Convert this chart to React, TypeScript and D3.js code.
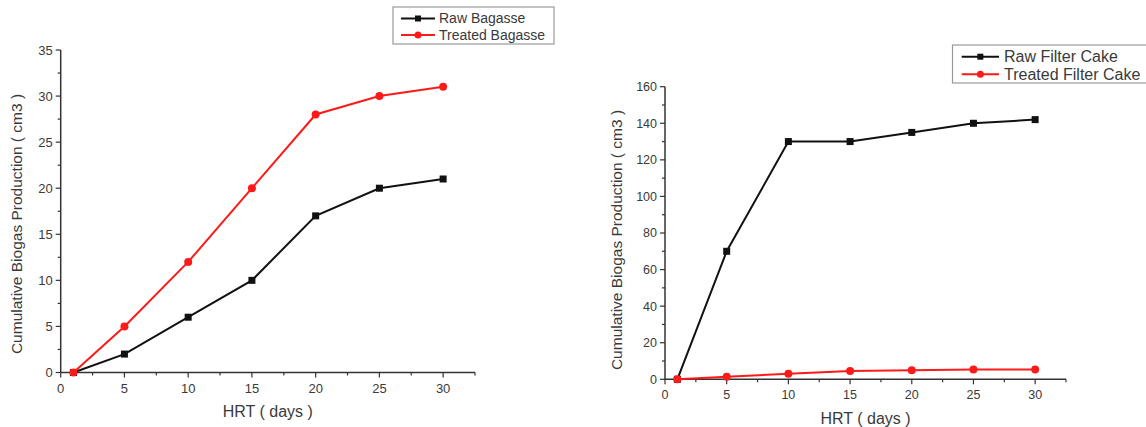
import React from "react";
import * as d3 from "d3";

const hrtDays = [1, 5, 10, 15, 20, 25, 30];
const rawBagasse = [0, 2, 6, 10, 17, 20, 21];
const treatedBagasse = [0, 5, 12, 20, 28, 30, 31];
const rawFilterCake = [0, 70, 130, 130, 135, 140, 142];
const treatedFilterCake = [0, 1.4, 3, 4.5, 5, 5.3, 5.3];

const xTicks = [0, 5, 10, 15, 20, 25, 30];
const leftYTicks = [0, 5, 10, 15, 20, 25, 30, 35];
const rightYTicks = [0, 20, 40, 60, 80, 100, 120, 140, 160];

const FONT = "Liberation Sans, Arial, sans-serif";
const TXT = "#3a3a3a";

type Series = { name: string; values: number[]; color: string; marker: "square" | "circle" };

type PanelProps = {
  x0: number; x1: number; yTop: number; yBottom: number;
  yMax: number; yTicks: number[]; yMinorStep: number;
  series: Series[];
  tickFont: number; titleFont: number; yTitleFont: number;
  yTitleX: number; yTitleY: number; xTitleY: number;
  legend: { x: number; y: number; w: number; h: number; row1: number; row2: number; lineX0: number; lineX1: number; textX: number; font: number };
  markerSize: number;
};

function Panel(p: PanelProps) {
  const x = d3.scaleLinear().domain([0, 32.5]).range([p.x0, p.x1]);
  const y = d3.scaleLinear().domain([0, p.yMax]).range([p.yBottom, p.yTop]);
  const line = d3.line<number>().x((_, i) => x(hrtDays[i])).y((v) => y(v));
  const xMinor = d3.range(2.5, 32.5, 5);
  const yMinor = d3.range(p.yMinorStep, p.yMax, p.yMinorStep * 2);
  const axisColor = "#333";
  const drawMarker = (s: Series, cx: number, cy: number, key: string | number, size: number) =>
    s.marker === "square" ? (
      <rect key={key} x={cx - size / 2} y={cy - size / 2} width={size} height={size} fill={s.color} />
    ) : (
      <circle key={key} cx={cx} cy={cy} r={size / 2 + 0.5} fill={s.color} />
    );
  const L = p.legend;
  return (
    <g>
      <line x1={p.x0} x2={p.x0} y1={y(0)} y2={y(p.yMax)} stroke={axisColor} strokeWidth={1.5} />
      <line x1={p.x0} x2={p.x1} y1={y(0)} y2={y(0)} stroke={axisColor} strokeWidth={1.5} />
      <line x1={p.x1} x2={p.x1} y1={y(0)} y2={y(0) + 3} stroke={axisColor} strokeWidth={1.2} />
      {xTicks.map((t) => (
        <g key={"xt" + t}>
          <line x1={x(t)} x2={x(t)} y1={y(0)} y2={y(0) + 5} stroke={axisColor} strokeWidth={1.2} />
          <text x={x(t)} y={y(0) + 20} textAnchor="middle" fontSize={p.tickFont} fontFamily={FONT} fill={TXT}>{t}</text>
        </g>
      ))}
      {xMinor.map((t) => (
        <line key={"xm" + t} x1={x(t)} x2={x(t)} y1={y(0)} y2={y(0) + 3} stroke={axisColor} strokeWidth={1.2} />
      ))}
      {p.yTicks.map((t) => (
        <g key={"yt" + t}>
          <line x1={p.x0 - 5} x2={p.x0} y1={y(t)} y2={y(t)} stroke={axisColor} strokeWidth={1.2} />
          <text x={p.x0 - 8} y={y(t)} dy="0.35em" textAnchor="end" fontSize={p.tickFont} fontFamily={FONT} fill={TXT}>{t}</text>
        </g>
      ))}
      {yMinor.map((t) => (
        <line key={"ym" + t} x1={p.x0 - 3} x2={p.x0} y1={y(t)} y2={y(t)} stroke={axisColor} strokeWidth={1.2} />
      ))}
      <text x={(p.x0 + p.x1) / 2} y={p.xTitleY} textAnchor="middle" fontSize={p.titleFont} fontFamily={FONT} fill={TXT}>HRT ( days )</text>
      <text transform={`translate(${p.yTitleX},${p.yTitleY}) rotate(-90)`} textAnchor="middle" dy="0.35em" fontSize={p.yTitleFont} fontFamily={FONT} fill={TXT}>
        Cumulative Biogas Production ( cm3 )
      </text>
      {p.series.map((s) => (
        <g key={s.name}>
          <path d={line(s.values) || ""} fill="none" stroke={s.color} strokeWidth={2} />
          {s.values.map((v, i) => drawMarker(s, x(hrtDays[i]), y(v), i, p.markerSize))}
        </g>
      ))}
      <rect x={L.x} y={L.y} width={L.w} height={L.h} fill="#fff" stroke="#999" strokeWidth={1.2} />
      {p.series.map((s, i) => {
        const ry = i === 0 ? L.row1 : L.row2;
        return (
          <g key={"lg" + s.name}>
            <line x1={L.lineX0} x2={L.lineX1} y1={ry} y2={ry} stroke={s.color} strokeWidth={2} />
            {drawMarker(s, (L.lineX0 + L.lineX1) / 2, ry, "m", p.markerSize - 1)}
            <text x={L.textX} y={ry} dy="0.35em" fontSize={L.font} fontFamily={FONT} fill={TXT}>{s.name}</text>
          </g>
        );
      })}
    </g>
  );
}

export default function App() {
  return (
    <svg width={1146} height={427} style={{ position: "absolute", left: 0, top: 0, background: "#fff" }}>
      <Panel
        x0={60.7} x1={475} yTop={50} yBottom={372.5}
        yMax={35} yTicks={leftYTicks} yMinorStep={2.5}
        series={[
          { name: "Raw Bagasse", values: rawBagasse, color: "#111", marker: "square" },
          { name: "Treated Bagasse", values: treatedBagasse, color: "#ff1a1a", marker: "circle" },
        ]}
        tickFont={13} titleFont={16} yTitleFont={15.5}
        yTitleX={17} yTitleY={224} xTitleY={417}
        legend={{ x: 393, y: 7, w: 161, h: 37, row1: 18.5, row2: 35, lineX0: 401, lineX1: 435, textX: 439, font: 14 }}
        markerSize={7}
      />
      <Panel
        x0={665} x1={1066} yTop={86.7} yBottom={379.3}
        yMax={160} yTicks={rightYTicks} yMinorStep={10}
        series={[
          { name: "Raw Filter Cake", values: rawFilterCake, color: "#111", marker: "square" },
          { name: "Treated Filter Cake", values: treatedFilterCake, color: "#ff1a1a", marker: "circle" },
        ]}
        tickFont={12.5} titleFont={16} yTitleFont={15.5}
        yTitleX={617} yTitleY={240} xTitleY={424}
        legend={{ x: 952.5, y: 45, w: 200, h: 38, row1: 56.7, row2: 74.3, lineX0: 961.7, lineX1: 999, textX: 1004, font: 16 }}
        markerSize={7}
      />
    </svg>
  );
}
